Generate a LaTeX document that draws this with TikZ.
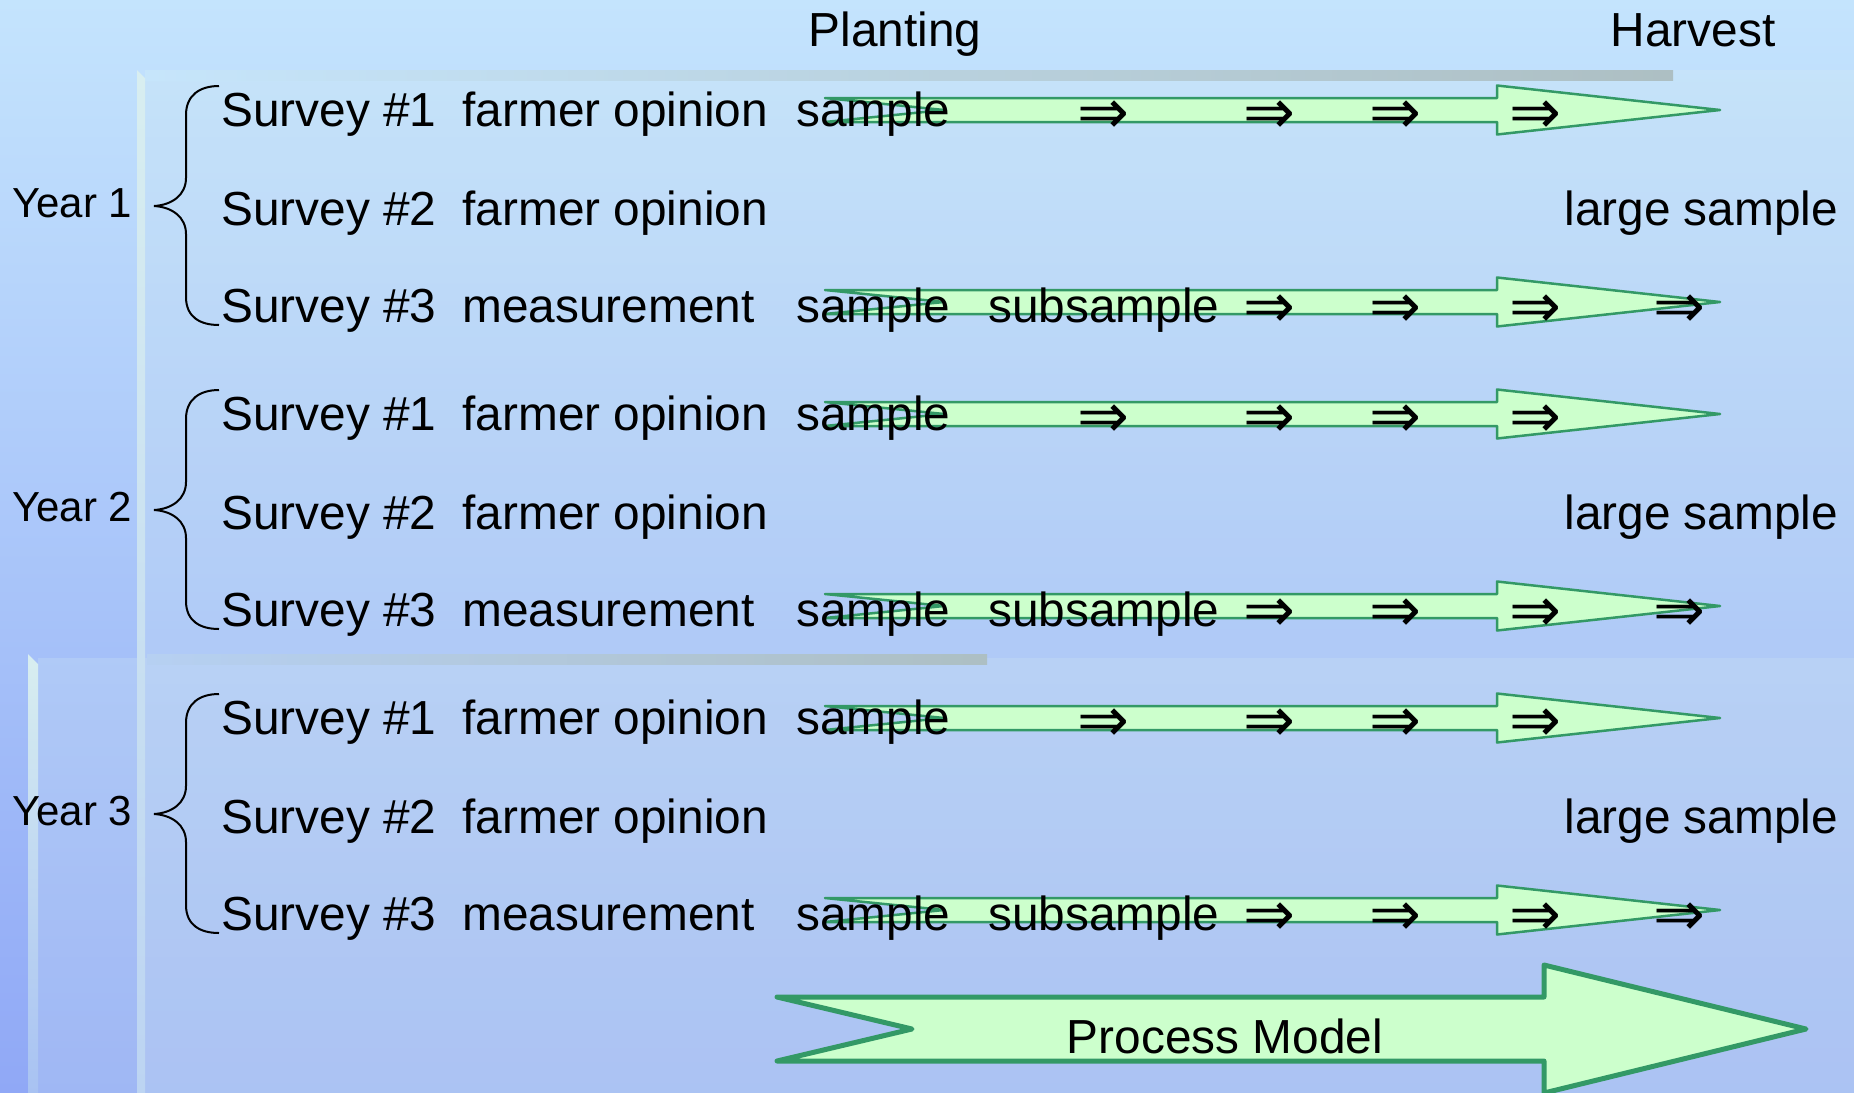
\documentclass[tikz,border=0pt]{standalone}
\usepackage{fontspec}
\setmainfont{Liberation Sans}
\newfontfamily\symfont{DejaVu Sans}

\definecolor{bgtop}{HTML}{C4E4FD}
\definecolor{bgbot}{HTML}{90A8F6}
\definecolor{veil}{HTML}{D8EEF0}
\definecolor{barend}{HTML}{ADBFC3}
\definecolor{barstart}{HTML}{C6E5FB}
\definecolor{barstartb}{HTML}{B6D0F2}
\definecolor{stripbotA}{HTML}{BCD4F2}
\definecolor{stripbotB}{HTML}{A8C2F2}
\definecolor{arrowline}{HTML}{339966}
\definecolor{arrowfill}{HTML}{CCFFCC}

\tikzset{
  lbl/.style={font=\fontsize{23.9}{28}\selectfont, inner sep=0pt, anchor=base west},
  yrlbl/.style={font=\fontsize{21}{24}\selectfont, inner sep=0pt, anchor=base west},
  dbl/.style={font=\symfont\fontsize{31}{34}\selectfont, inner sep=0pt, anchor=center},
  flow/.style={draw=arrowline, fill=arrowfill, line width=1.25pt, line join=round},
  bigflow/.style={flow, line width=2.5pt},
  bracepath/.style={draw=black, line width=1pt},
  pics/flowarrow/.style={code={
    \path[flow] (0,-12) -- (672,-12) -- (672,-24.5) -- (895,0) -- (672,24.5)
      -- (672,12) -- (0,12) -- (119,0) -- cycle;
  }},
  pics/yearbrace/.style={code={
    \path[bracepath] (65,-120) .. controls (46,-120) and (32,-111) .. (32,-91)
      -- (32,-28) .. controls (32,-11) and (18,-1) .. (0,0)
      .. controls (18,1) and (32,11) .. (32,28)
      -- (32,91) .. controls (32,111) and (46,119) .. (65,119);
  }}
}

\begin{document}
\begin{tikzpicture}[x=0.5pt,y=-0.5pt]
\useasboundingbox (0,0) rectangle (1854,1093);

% sky background
\shade[top color=bgtop, bottom color=bgbot] (0,0) rectangle (1854,1093);

% translucent panels
\fill[veil, fill opacity=0.22] (145,70) rectangle (1854,1093);
\fill[veil, fill opacity=0.22] (38,658) rectangle (1854,1093);

% grey rails
\shade[left color=barstart, right color=barend] (145,70) rectangle (1673,80);
\shade[left color=barstartb, right color=barend] (147,654) rectangle (987,664);

% bevelled edge strips
\shade[top color=veil, bottom color=stripbotA]
  (137,70) -- (145,78) -- (145,1093) -- (137,1093) -- cycle;
\shade[top color=veil, bottom color=stripbotB]
  (28,654) -- (38,664) -- (38,1093) -- (28,1093) -- cycle;

% column headings
\node[lbl, anchor=base] (planting) at (895,46) {Planting};
\node[lbl, anchor=base] (harvest) at (1693,46) {Harvest};

% one block of three surveys per year
\foreach \yr in {1,2,3}{
  \pgfmathsetmacro{\off}{(\yr-1)*304}
  \pic at (825,{110+\off}) {flowarrow};
  \pic at (825,{302+\off}) {flowarrow};
  \pic at (154,{206+\off}) {yearbrace};

  \node[yrlbl] (year\yr) at (12,{217+\off}) {Year \yr};

  % Survey 1
  \node[lbl] (s\yr a) at (221,{126+\off}) {Survey \#1};
  \node[lbl] (t\yr a) at (462,{126+\off}) {farmer opinion};
  \node[lbl] (p\yr a) at (796,{126+\off}) {sample};
  \node[dbl] (d\yr a1) at (1103,{117+\off}) {⇒};
  \node[dbl] (d\yr a2) at (1269,{117+\off}) {⇒};
  \node[dbl] (d\yr a3) at (1395,{117+\off}) {⇒};
  \node[dbl] (d\yr a4) at (1535,{117+\off}) {⇒};

  % Survey 2
  \node[lbl] (s\yr b) at (221,{225+\off}) {Survey \#2};
  \node[lbl] (t\yr b) at (462,{225+\off}) {farmer opinion};
  \node[lbl] (l\yr b) at (1564,{225+\off}) {large sample};

  % Survey 3
  \node[lbl] (s\yr c) at (221,{322+\off}) {Survey \#3};
  \node[lbl] (t\yr c) at (462,{322+\off}) {measurement};
  \node[lbl] (p\yr c) at (796,{322+\off}) {sample};
  \node[lbl] (u\yr c) at (988,{322+\off}) {subsample};
  \node[dbl] (d\yr c1) at (1269,{311+\off}) {⇒};
  \node[dbl] (d\yr c2) at (1395,{311+\off}) {⇒};
  \node[dbl] (d\yr c3) at (1535,{311+\off}) {⇒};
  \node[dbl] (d\yr c4) at (1679,{311+\off}) {⇒};
}

% overall process arrow
\path[bigflow] (777,997) -- (1544,997) -- (1544,965) -- (1806,1029)
  -- (1544,1093) -- (1544,1061) -- (777,1061) -- (912,1029) -- cycle;
\node[lbl, anchor=base] (process) at (1225,1053) {Process Model};
\end{tikzpicture}
\end{document}
